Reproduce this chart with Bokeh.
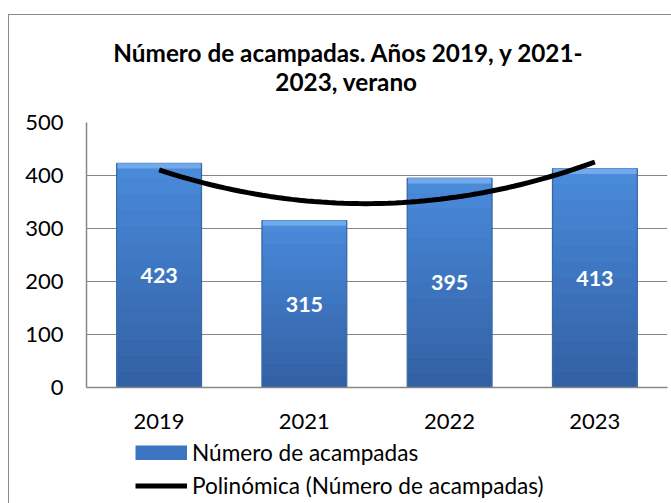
import numpy as np
from bokeh.plotting import figure
from bokeh.layouts import column
from bokeh.models import (Range1d, FixedTicker, Legend, LegendItem, ColumnDataSource)
from bokeh.core.properties import value
from bokeh.embed import file_html
from bokeh.resources import INLINE

# ---- data ----
years = ["2019", "2021", "2022", "2023"]
acampadas = [423, 315, 395, 413]
y_ticks = [0, 100, 200, 300, 400, 500]
title_lines = ["Número de acampadas. Años 2019, y 2021-", "2023, verano"]
series_name = "Número de acampadas"
trend_name = "Polinómica (Número de acampadas)"

FONT = "Lato"
W_PX = 662
BL, BR = 77, 4          # left / right borders shared by all rows (frames are aligned)
FW = W_PX - BL - BR     # frame width in px
BAR_FILL = "#3c76c2"
pos = list(range(1, len(years) + 1))


def bare(height):
    f = figure(width=W_PX, height=height, output_backend="svg", toolbar_location=None,
               x_axis_location=None, y_axis_location=None, title=None,
               min_border=0, min_border_left=BL, min_border_right=BR,
               min_border_top=0, min_border_bottom=0,
               x_range=Range1d(0, FW), y_range=Range1d(height, 0))
    f.grid.visible = False
    f.outline_line_color = None
    return f


# ---- title ----
TH = 92
tf = bare(TH)
tf.text(x=[262.5, 260], y=[37, 66], text=title_lines, text_color="black",
        text_font=value(FONT), text_font_style="bold", text_font_size="24.3px",
        text_align="center", text_baseline="alphabetic")

# ---- main chart ----
p = figure(width=W_PX, height=330, output_backend="svg", toolbar_location=None,
           title=None, x_range=Range1d(0.5, len(years) + 0.5), y_range=Range1d(0, 500),
           min_border_left=BL, min_border_right=BR, min_border_top=15, min_border_bottom=50)
p.outline_line_color = None

W = 0.585
src = ColumnDataSource(dict(x=pos, top=acampadas))
p.vbar(x="x", top="top", bottom=0, width=W, source=src,
       fill_color=BAR_FILL, line_color="#2f5f9c", line_width=1)
n = 14
c_top = np.array([0x4a, 0x8c, 0xdc])
c_bot = np.array([0x32, 0x5f, 0xa2])
for i in range(n):
    f = (i + 0.5) / n
    c = (c_bot * (1 - f) + c_top * f).astype(int)
    col = "#%02x%02x%02x" % tuple(c)
    p.vbar(x=pos, bottom=[v * i / n for v in acampadas], top=[v * (i + 1) / n for v in acampadas],
           width=W - 0.012, fill_color=col, line_color=None)
p.vbar(x=pos, top=acampadas, bottom=[v - 10 for v in acampadas], width=W - 0.012,
       fill_color="#72a9ea", line_color=None)

p.text(x=pos, y=[v / 2 for v in acampadas], text=[str(v) for v in acampadas],
       text_color="white", text_font=value(FONT), text_font_style="bold",
       text_font_size="21.5px", text_align="center", text_baseline="middle")

coef = np.polyfit(pos, acampadas, 2)
xs = np.linspace(pos[0], pos[-1], 60)
p.line(xs, np.polyval(coef, xs), line_color="black", line_width=5)

p.yaxis.ticker = FixedTicker(ticks=y_ticks)
p.xaxis.ticker = FixedTicker(ticks=pos)
p.xaxis.major_label_overrides = {k: y for k, y in zip(pos, years)}
for ax in (p.xaxis[0], p.yaxis[0]):
    ax.axis_line_color = "#868686"
    ax.axis_line_width = 1.5
    ax.major_tick_line_color = None
    ax.minor_tick_line_color = None
    ax.major_label_text_font = FONT
    ax.major_label_text_font_size = "22px"
    ax.major_label_text_color = "black"
p.yaxis.major_label_standoff = 17
p.xaxis.major_label_standoff = 20
p.xgrid.grid_line_color = None
p.ygrid.grid_line_color = "#868686"
p.ygrid.grid_line_width = 1

# ---- legend (below the chart) ----
LH = 66
lf = bare(LH)
# legend sample renderers, kept outside the visible range
r_bar = lf.line(x=[-500, -400], y=[1, 1], line_color=BAR_FILL, line_width=15)
r_bar_hi = lf.line(x=[-500, -400], y=[1, 1], line_color="#6aa2e6", line_width=3)
r_line = lf.line(x=[-500, -400], y=[1, 1], line_color="black", line_width=5)
legend = Legend(items=[LegendItem(label=series_name, renderers=[r_bar]),
                       LegendItem(label=trend_name, renderers=[r_line])],
                location=(49, 4), orientation="vertical",
                glyph_width=52, glyph_height=15, label_standoff=5, spacing=6,
                padding=0, margin=0, border_line_alpha=0, background_fill_alpha=0,
                label_text_font=FONT, label_text_font_size="22.6px", label_text_color="black")
lf.add_layout(legend, "center")

layout = column(tf, p, lf, spacing=0,
                styles={"margin-left": "8px", "margin-top": "14px",
                        "border-left": "1px solid #8a8a8a", "border-top": "1px solid #8a8a8a"})

open("out.html", "w").write(file_html(layout, INLINE))
